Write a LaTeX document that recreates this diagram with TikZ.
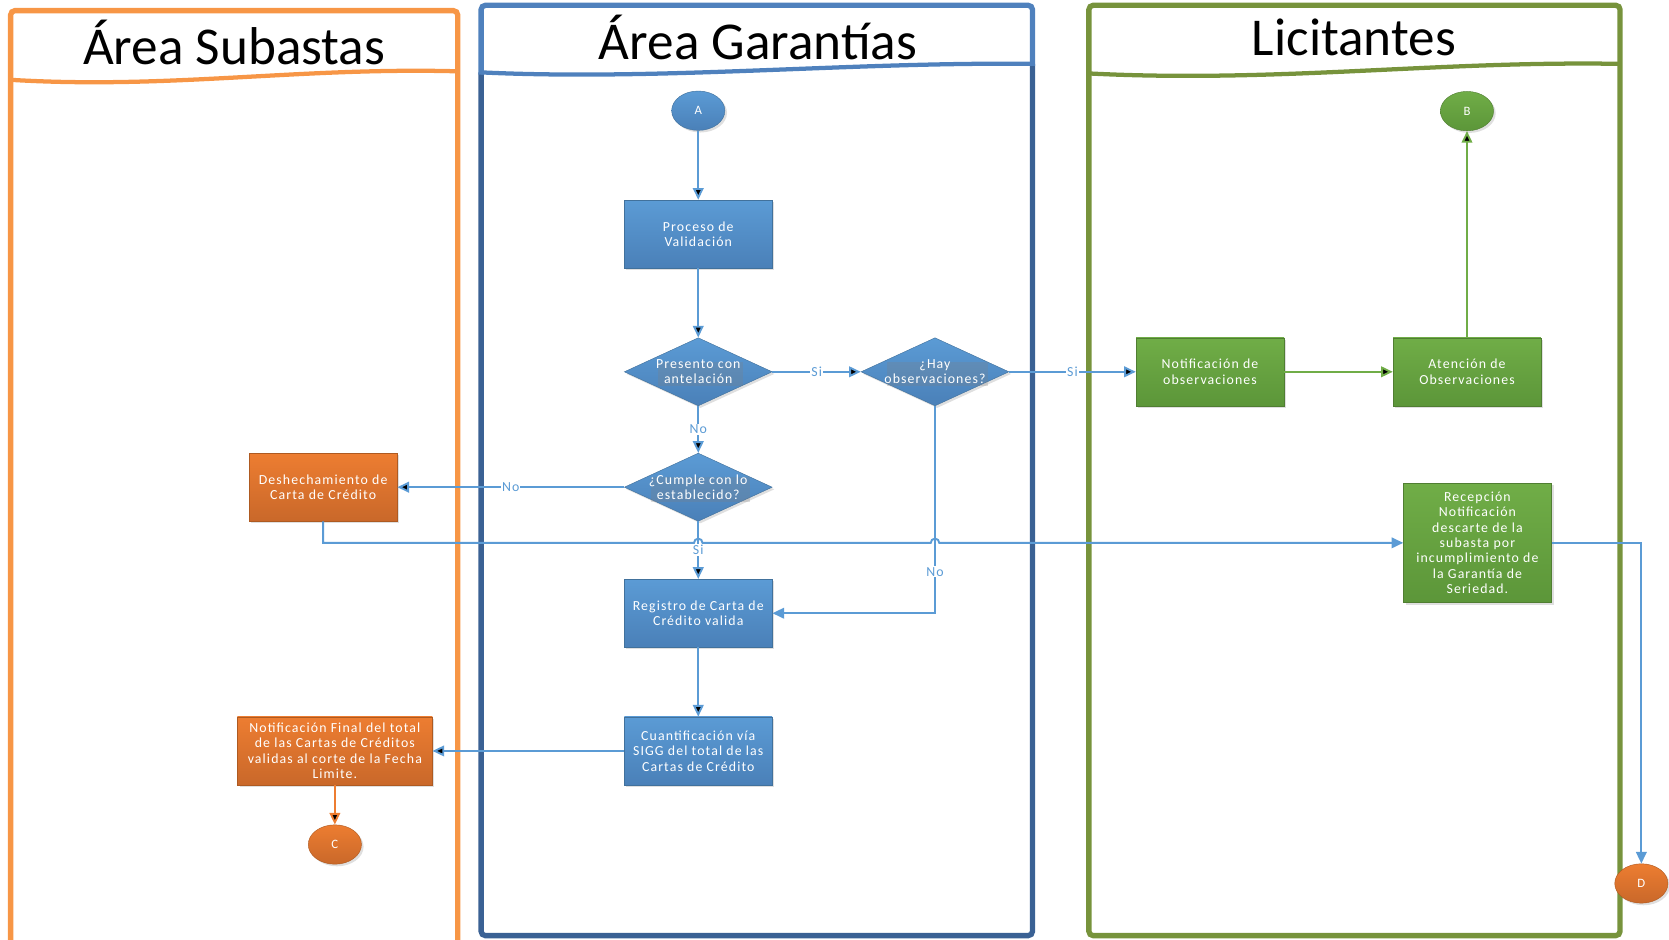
\documentclass[tikz,border=0pt]{standalone}
\usepackage{fontspec}
\setmainfont{Carlito}
\newfontfamily\boxfont[LetterSpace=8]{Carlito}
\usetikzlibrary{arrows.meta,positioning,shapes.geometric,shadows}

\definecolor{subOrange}{HTML}{F79646}
\definecolor{garBlue}{HTML}{4F81BD}
\definecolor{garDark}{HTML}{3A6194}
\definecolor{licGreen}{HTML}{77933C}
\definecolor{flowBlue}{HTML}{5B9BD5}
\definecolor{flowGreen}{HTML}{70AD47}
\definecolor{flowOrange}{HTML}{ED7D31}
\definecolor{blueTop}{HTML}{5B9BD5}
\definecolor{blueBot}{HTML}{4A80B8}
\definecolor{blueLine}{HTML}{41719C}
\definecolor{orangeTop}{HTML}{ED7D31}
\definecolor{orangeBot}{HTML}{C9682A}
\definecolor{orangeLine}{HTML}{AE5A21}
\definecolor{greenTop}{HTML}{70AD47}
\definecolor{greenBot}{HTML}{5C9639}
\definecolor{greenLine}{HTML}{507E32}

\tikzset{
  lane/.style={line width=5pt,rounded corners=4pt},
  wave/.style={line width=4pt},
  lanetitle/.style={font=\fontsize{50}{52}\selectfont},
  shape base/.style={inner sep=0pt,align=center,text=white,
    font=\boxfont\fontsize{13}{14.5}\selectfont,
    drop shadow={shadow xshift=2pt,shadow yshift=-2pt,opacity=.25}},
  task/.style={shape base,rectangle,minimum width=139pt,minimum height=64pt},
  decision/.style={shape base,diamond,shape aspect=2.17,minimum width=139pt,minimum height=64pt},
  conn/.style={shape base,ellipse,minimum width=50pt,minimum height=37pt,
    font=\boxfont\fontsize{12}{12}\selectfont},
  blue/.style={draw=blueLine,top color=blueTop,bottom color=blueBot},
  orange/.style={draw=orangeLine,top color=orangeTop,bottom color=orangeBot},
  green/.style={draw=greenLine,top color=greenTop,bottom color=greenBot},
  flow/.style={->,draw=flowBlue,line width=1.8pt},
  gflow/.style={->,draw=flowGreen,line width=1.8pt},
  oflow/.style={->,draw=flowOrange,line width=1.8pt},
  lbl/.style={fill=white,text=flowBlue,inner sep=1pt,font=\boxfont\fontsize{13}{13}\selectfont}
}

\begin{document}
\begin{tikzpicture}[x=1pt,y=-1pt,>={Triangle[length=11pt,width=10pt]}]
\useasboundingbox (0,0) rectangle (1568,883);

% lanes
\draw[lane,draw=subOrange] (10,890) -- (10,10) -- (430,10) -- (430,890);
\draw[wave,draw=subOrange] (10,75) .. controls (160,84) and (280,63) .. (430,67);
\node[lanetitle] (tsub) at (220,40) {Área Subastas};

\draw[lane,draw=garDark] (452,68) -- (452,879) -- (970,879) -- (970,60);
\draw[lane,draw=garBlue] (452,70) -- (452,5) -- (970,5) -- (970,62);
\draw[wave,draw=garBlue] (452,68) .. controls (620,76) and (800,58) .. (970,60);
\node[lanetitle] (tgar) at (712,35) {Área Garantías};

\draw[lane,draw=licGreen] (1023,5) rectangle (1522,879);
\draw[wave,draw=licGreen] (1023,69) .. controls (1200,78) and (1350,57) .. (1522,60);
\node[lanetitle] (tlic) at (1272,35) {Licitantes};

% nodes
\node[conn,blue] (A) at (656,104) {A};
\node[task,blue] (proc) [below=65pt of A] {Proceso de\\Validación};
\node[decision,blue,label={[shape base]center:Presento con\\antelación}] (pres) [below=65pt of proc] {};
\node[decision,blue,label={[shape base]center:¿Hay\\observaciones?}] (hay) [right=83pt of pres] {};
\node[decision,blue,label={[shape base]center:¿Cumple con lo\\establecido?}] (cump) [below=44pt of pres] {};
\node[task,blue] (reg) [below=54pt of cump] {Registro de Carta de\\Crédito valida};
\node[task,blue] (cuant) [below=65pt of reg] {Cuantificación vía\\SIGG del total de las\\Cartas de Crédito};

\node[task,orange] (desh) [left=213pt of cump] {Deshechamiento de\\Carta de Crédito};
\node[task,orange,minimum width=183pt] (final) [left=180pt of cuant] {Notificación Final del total\\de las Cartas de Créditos\\validas al corte de la Fecha\\Limite.};
\node[conn,orange] (C) [below=37pt of final] {C};

\node[task,green] (notobs) [right=119pt of hay] {Notificación de\\observaciones};
\node[task,green] (aten) [right=102pt of notobs] {Atención de\\Observaciones};
\node[conn,green] (B) [above=194pt of aten] {B};
\node[task,green,minimum height=112pt] (rec) at (1388,510) {Recepción\\Notificación\\descarte de la\\subasta por\\incumplimiento de\\la Garantía de\\Seriedad.};
\node[conn,orange] (D) at (1542,830) {D};

% connectors
\path[flow] (A) edge (proc)
            (proc) edge (pres)
            (pres) edge node[lbl] {Si} (hay)
                   edge node[lbl] {No} (cump)
            (hay) edge node[lbl] {Si} (notobs)
            (cump) edge node[lbl] {No} (desh)
                   edge node[lbl] {Si} (reg)
            (reg) edge (cuant)
            (cuant) edge (final);
\draw[flow] (hay.south) |- node[lbl,pos=0.4] {No} (reg.east);
\draw[flow] (desh.south) -- (desh.south |- rec.west)
  -- ([xshift=-4pt]cump.south |- rec.west) arc[start angle=180,end angle=360,radius=4]
  -- ([xshift=-4pt]hay.south |- rec.west) arc[start angle=180,end angle=360,radius=4]
  -- (rec.west);
\draw[flow] (rec.east) -| (D.north);

\path[gflow] (notobs) edge (aten)
             (aten) edge (B);
\path[oflow] (final) edge (C);
\end{tikzpicture}
\end{document}
